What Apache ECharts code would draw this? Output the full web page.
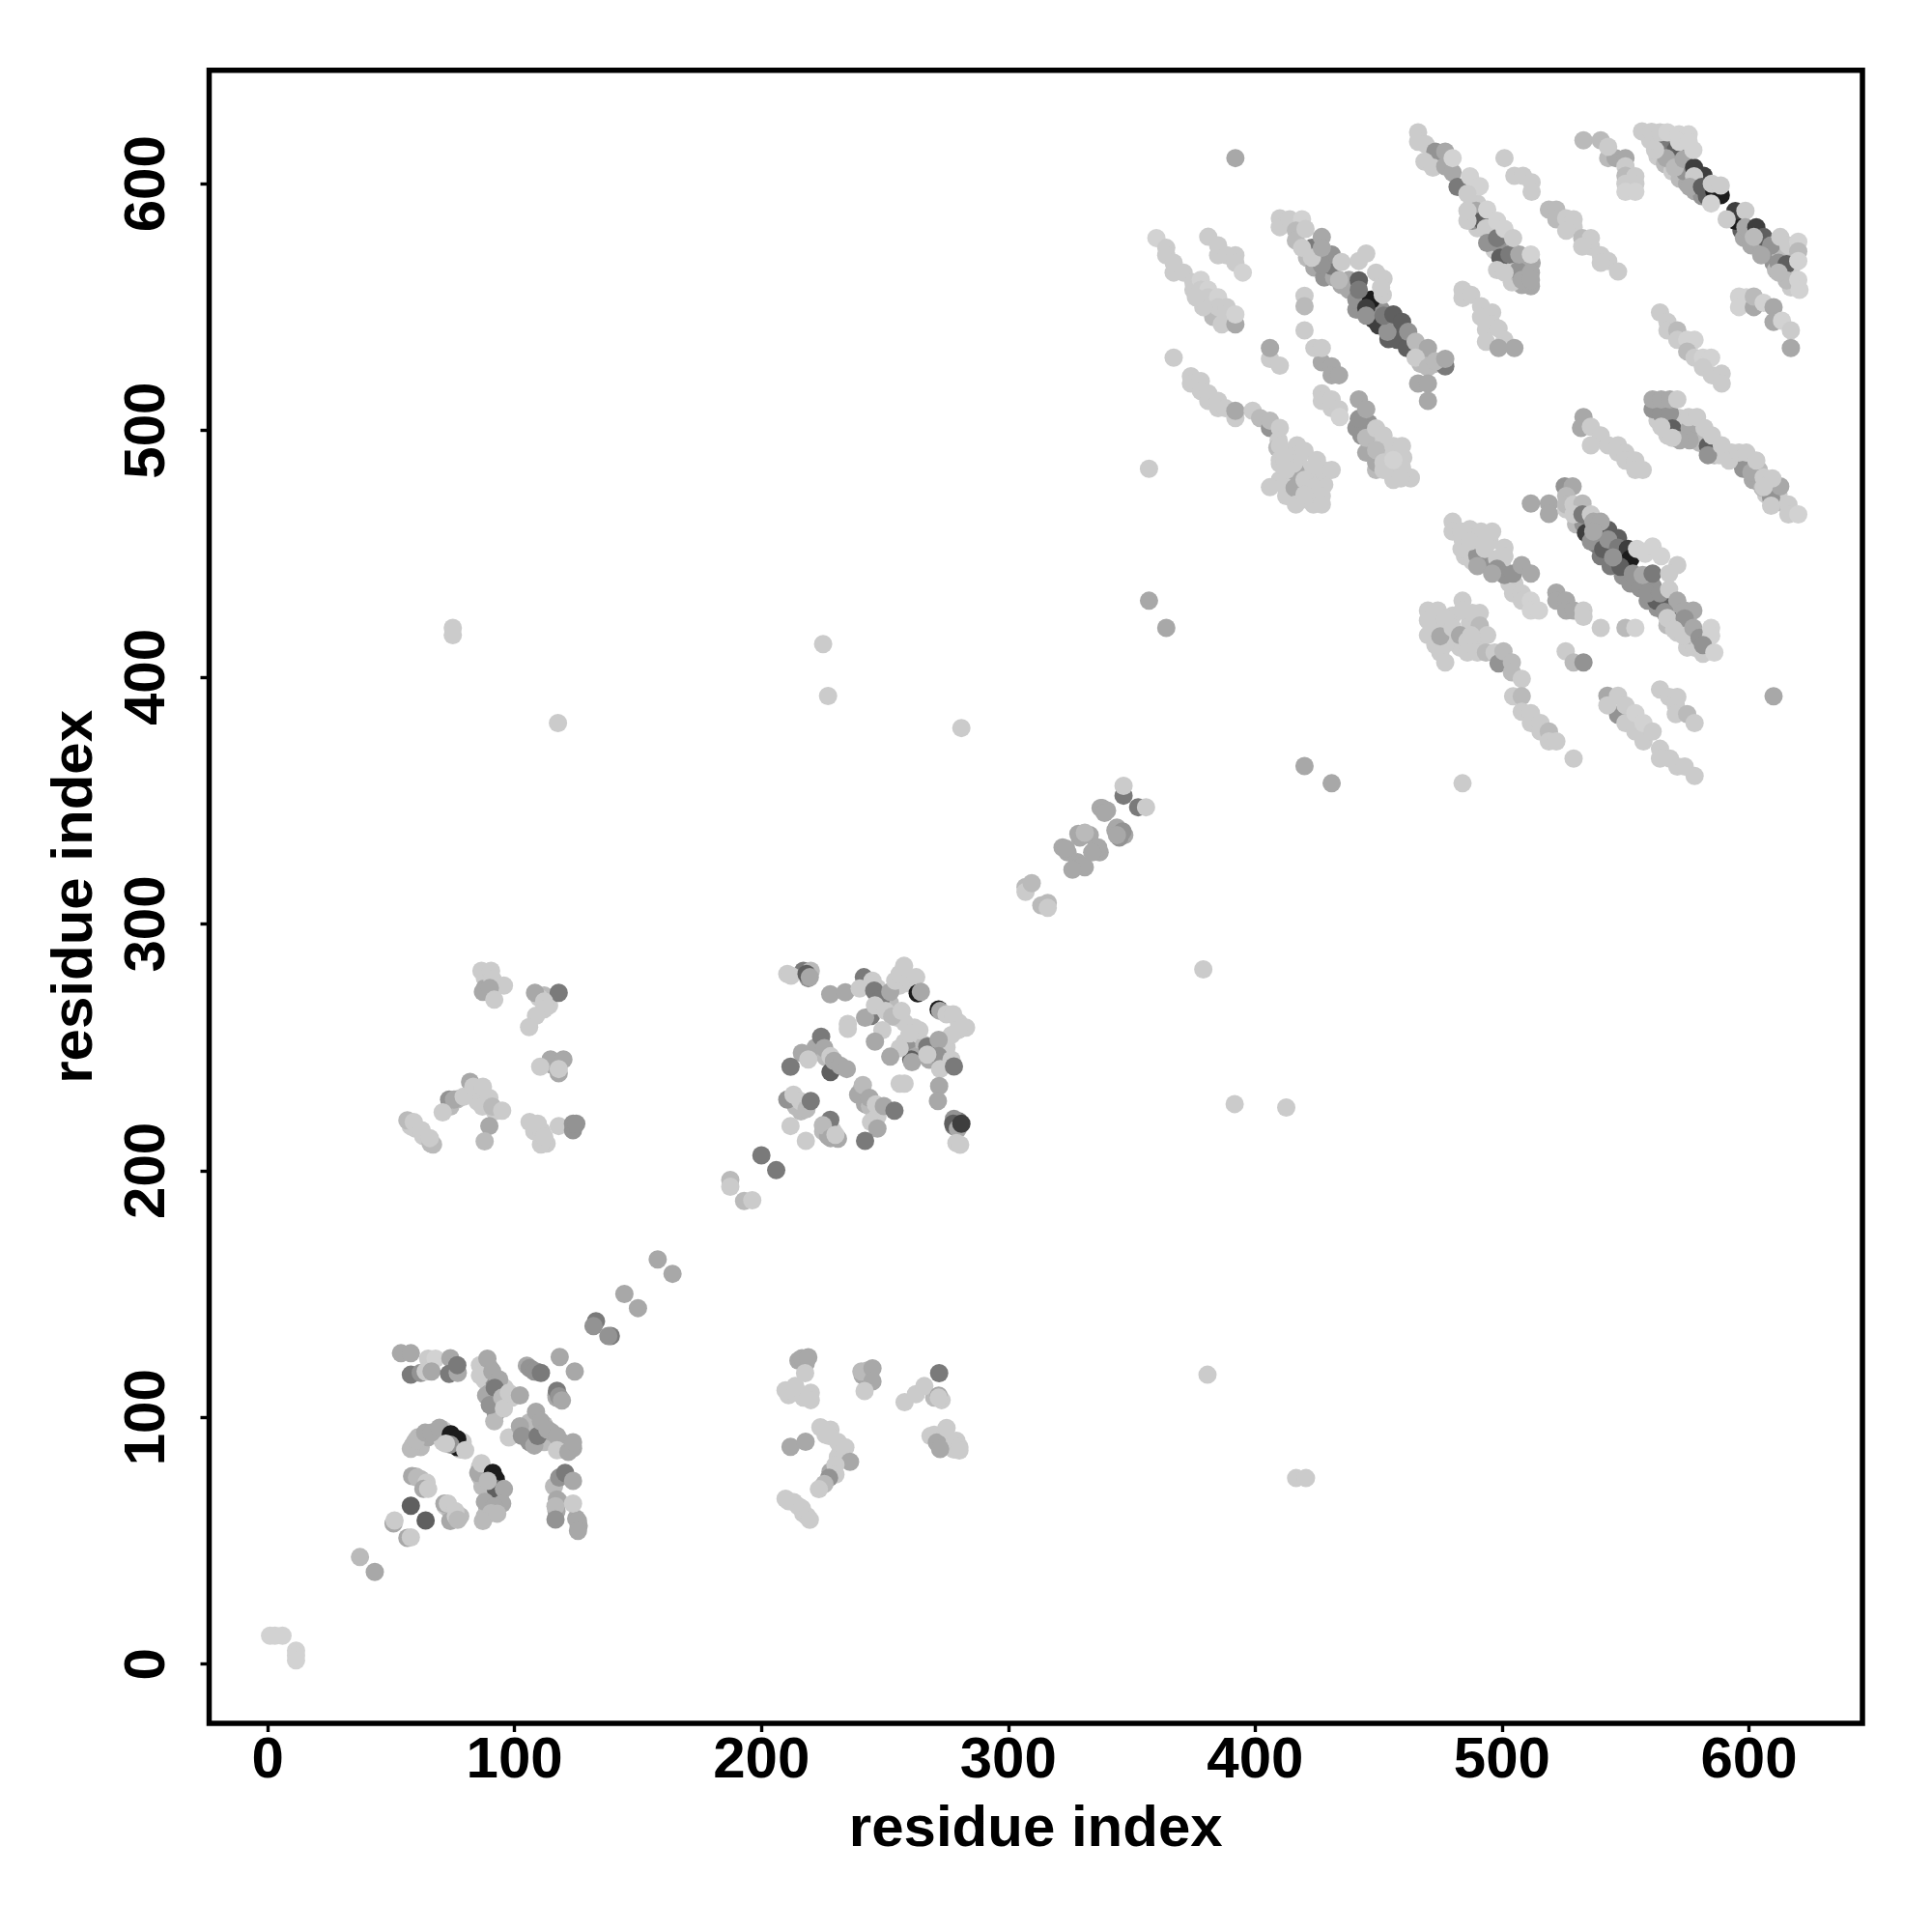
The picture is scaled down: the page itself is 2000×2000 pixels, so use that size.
<!DOCTYPE html>
<html><head><meta charset="utf-8">
<script src="https://cdn.jsdelivr.net/npm/echarts@6/dist/echarts.min.js"></script>
<style>html,body{margin:0;padding:0;background:#fff}#c{width:2000px;height:2000px}</style></head>
<body><div id="c"></div>
<script>
const tickValues=[0,100,200,300,400,500,600];
const axisName='residue index';
// contact strength classes -> grey level
const greyRamp=['#ffffff','#d2d2d2','#cbcbcb','#bababa','#a8a8a8','#939393','#7a7a7a','#5f5f5f','#3e3e3e','#1c1c1c'];
// each point: [residue i, residue j, strength class]
const isolated=[[392,610.4,4],[357,484.5,2],[357,431,4],[364,420,4],[420,364,4],[431,357,4],[484,357,2],[610,392.3,4],
[75,420,2],[75,417,2],[117.6,381.4,2],[225,413.4,2],[227,392.4,2],[281,379.4,2],[379,281.6,2],[391.7,227,2],[412.6,225.6,2],[380.7,117.3,2],[416.6,75.4,2],[420.6,75.4,2],
[37.4,43.4,3],[43.4,37.4,4],[1,11.5,1],[3,11.5,1],[6,11.5,1],[11.5,5.5,1],[11.5,3.5,1],[11.5,1.5,1],
[144.5,150,4],[150,144.3,4],[158,164,4],[164,158.2,4],[133,139,6],[132,137,5],[139,133,6],[138,133,5],
[187.4,196.2,3],[187.4,193.5,2],[193,187.7,3],[196.3,188,2],[200,206.2,6],[206,200.2,6]];
const middleFill=[[329,335,4],[333,336,4],[338,347,4],[340,346,4],[335,330,4],[337,329,4],[328,325,4],[331,323,4],[344,339,4],[347,336,4],[345,335,5],[322,331,4],[324,329,4]];
const middle=[[307,315,3],[307,313,2],[309.5,316.5,3],[313.4,307.5,3],[316,308.5,3],[316,306.5,2],
[323.4,330.5,4],[328.4,336.5,4],[330,323.5,4],[326,322,4],[331,337,3],[336.4,331,4],[334,329,4],[337.4,347,4],[339,345,4],[343.4,338,4],[346.3,337.5,5],[344,336,4],
[346.7,352,6],[352.6,347.3,6],[346.7,356,2],[355.8,347.3,2]];
const stripeA=[[383,546,3],[360,578,1],[364,574,2],[364,571,2],[367,568,2],[367,564,2],[371,564,2],[375,560,2],[375,557,2],[378,561,1],[378,557,2],[381,557,1],[381,554,2],[385,554,1],[385,550,2],[388.5,550,2],[388,547,2],[386.5,543,2],[379,550,2],[376,554,2],[392,543,4],[392,547,1],
[381,578.5,2],[385,575,2],[385,571,2],[388.5,571,2],[392,571,2],[392,568,2],[395,564,1]];
const stripeC=[[367,529.5,2],[374,522,2],[374,519,2],[378,520,2],[378,516,2],[381,515,2],[381,512,2],[385,512,2],[385,509,2],[388,509,2],[392,505,2],[392,508,4],
[399,508,2],[402,505,3],[406,501,5],[406,504,3],[410,501,2],[409.5,496,2],[409,493,3],[410,488,2],[410,494,2],[410,486.5,2],[417,494,2],[417,490,2],[420,491.7,2],[416.5,483,4],[415.6,486.5,2],[425,488,2],[427.5,484,2],[431,484,2],[412,488,2],[412.6,484,2],
[406,477,2],[412.6,476.7,2],[412.6,473.4,2],[416,476.7,4],[416.5,470,2],[420,480,2],[423.6,477,2],[427,473.4,2],[423.6,470,2],[427,470,2],[420,474,2]];
const stripeCFill=[[413,491,2],[418,486,2],[420,484,2],[423,482,2],[415,480,2],[418,478,2],[421,472,2],[417,473,2],[410,480,2],[425,477,2],[428,478,2]];
const mainStripeAFill=[[421,570,3],[424,566,4],[428,562,5],[432,562,4],[435,559,4],[438,557,4],[438,561,4],[441,549,5],[444,551,5],[448,549,6],[448,545,8],[451,549,5],[454,543,6],[454,537,7],[457,541,5],[458,539,7],[461,537,6],[463,534,4],[467,531,4],[470,528,3],[473,527,3],[467,527,3]];
const mainStripeA=[[442,553,6],[441,553,5],[447,553,9],[445,549.7,8],[450,542.6,8],[457.5,536.7,7],[461.5,533.4,7],[431,566.7,6],[423,574,6],[431,571.3,5],[427,567,5],[453.6,540,5],[445,546.5,5],[477,526,6],
[410,586,2],[410,582.4,2],[414,585.6,2],[419,585.6,1],[416.5,581,3],[416.5,577,3],[420.4,581.7,2],[419,574,2],[423,570,2],[427,578.4,4],[427,574,4],[434,561,3],[445,571.7,2],[442,568.7,2],[435,568.3,2],
[442,560.8,7],[442,557,6],[452,546.5,6],[456,547,7],[459.5,544,7],[462,540,5],[465,536,3],[470,533.4,4],[465,529.5,2],[470,525.6,3],[473,528,3],[477,529,4],
[449,564,2],[452,561.5,2],[451.7,555,2],[451,558,2],
[466,519,4],[470,519,4],[470,512,4]];
const midBlocksFill=[[447,495,3],[450,495,2],[453,491,2],[456,484,2],[460,489,2],[449,484,3],[456,480,2],[443,498,5],[446,503,5]];
const midBlocks=[[420,554.6,2],[420,550.4,3],[420,540.6,2],[406,529,2],[406,533.4,4],[410,526.3,2],
[427,527.6,4],[431,526,4],[431,522.4,4],[434,522.4,4],[424,533.4,2],[427,533.4,2],
[427,515,2],[427,512,2],[431,512.6,2],[431,509,2],[434,508.6,2],[434.3,505.4,1],
[441,501,5],[442,504.7,5],[442,512.6,4],[445,508.6,4],[445,491,4],[449,487,4],[445,497,3],[449,500.8,2],[452,498,2],[449,492,3],[456,493.7,2],[459.5,493.7,2],[452,487,2],[459.5,485,2],[463,481,2],[463,480.6,2],[459,480.6,2],[452,484,2],[456,488,1],
[466,620.8,2]];
const upperLeftFill=[[487,590,2],[490,592,2],[492,588,4],[495,583,6],[497,581,5],[490,582,2],[495,578,2],[497,573,2],[500,574,5],[503,575,4],[503,568,3],[506,568,5],[509,568,3],[512,568,4],[505,561,2],[503,565,2],[511.7,558.5,4],[508,559,4],[504,560,2],[507,563,3]];
const upperLeft=[[466,617,2],[469,616,2],[473,613,5],[477,613,4],[468.6,609,2],[472,606.5,2],[477,607,4],[480,604.5,4],[482,598.7,6],[480,610.4,1],[487,603,1],[491,599,1],[486,596,2],
[489.5,589,4],[488,585,5],[492,585,7],[486,585,2],[486,589,2],[494,589.5,1],[493.5,582,2],[494,576,5],[498,576,5],[498,578,6],[499.3,570,7],[503,571.3,6],[506.5,564.7,5],[507,571.3,4],[508,561,4],[511.7,564,4],[511.7,561,4],[498,585,1],[501,581.7,1],[504.5,578,2],[498,565,2],[501,564,2],[511.7,571.3,1],
[501,610.4,2],[505,603.2,2],[508.5,603.2,2],[512,600.6,2],[512,596.7,2],
[519,589.5,3],[522,589.5,3],[522,585.6,3],[526,586,2],[529,585.6,2],[529,582.4,2],[526,581,2],[532.5,578,3],[536,578,2],[536,574.5,2],[532.5,574.5,2],[540,571,2],[543,568.7,2],[540,568,2],[547,564.4,2],
[484,557,2],[484,553.7,2],[487.5,555,2],[491.5,550.4,2],[496,547.8,2],[491.5,546,2],[493.5,541,2],[493.5,536,2],[496,543,2],[498.6,541.3,2],[501,536.7,2],[498.6,533.4,4],[505,533.4,4]];
const topRightFill=[[563,611,2],[566,608,3],[569,605,2],[572,602,3],[575,600,4],[578,597,4],[581,595,5],[583,595,7],[579,601,6],[574,605,5],[568,611,4],[571,608,5],
[597,581,7],[598,578,4],[601,575,4],[604,578,6],[607,572,5],[605,574,4],[610,568,5],[611,565,3],[613,571,3],[616,563,3],[617,558,2],[618,570,3],[617,565,2]];
const topRight=[[533,617.6,3],[540,617.6,3],[543,610.4,3],[546,610.4,4],[550,610.4,4],[543,615,2],[550,607,2],[550,603.2,3],[554,603,2],[550,600,2],[554,600,2],[550,596.7,1],[554,596.7,1],
[566.5,615.6,6],[570.4,613.7,7],[566.5,610.4,4],[570,606.5,3],[573.6,610,4],[577.8,606.5,8],[581.7,603.2,8],[562,613.7,2],[560,617.6,2],[556.7,621.2,2],[560.6,621,2],[564,620.8,2],[567,620.8,1],[571.7,620,1],[575.6,620,1],[571.7,617,1],[575.6,617,1],[577.5,613.7,1],[577.8,603,2],[576,598.7,4],[581,598.7,7],
[588.6,595.4,9],[586,597,9],[585,600,2],[588.6,599.3,2],[584.7,592,1],
[594.5,585,9],[594.5,588.9,8],[591,585.6,2],[598.6,589,2],[598.6,582.4,4],[603,582.4,8],[606,578.4,7],[602,578.4,3],[609,575,5],[605,571,4],[612,568,5],[615.3,567.4,7],[612.7,578.4,2],[615.3,560.8,3],[612,564,3],[616,575,2],[620,576.5,1],[620,572.6,3],[620,568.7,1],[620,561,1],[620.5,557,1],
[596,554.3,1],[596,550,1],[599,554,1],[602,550,4],[602,554.3,3],[606,551.7,1],[610,550,4],[610,544,4],[613.4,544.5,1],[617,540.6,2],[617,533.4,4]];
const rightUpperFill=[[563,504,2],[566,503,5],[567,498,2],[570,504,5],[573,500,4],[572,505,2],[578,498,4],[580,495,3],[586,490,3],[584,493,2],[588,490,2],[593,491,2],[600,484,5],[604,479,4],[607,474,2],[604,484,3],[612,471,3],[612,474,2]];
const rightUpper=[[564,547.8,2],[567,544,2],[567,540.6,2],[571,540.6,3],[571,536.7,2],[575,536.7,1],[578,536.7,1],[575,532,3],[578,529.5,2],[581.4,529.5,1],[584.7,529.5,1],[581.4,525.6,2],[585,522.4,2],[589,523,2],[589,519,2],
[533,505.4,4],[532,501,4],[536,501.5,2],[540,498,2],[536,494,2],[543,494,2],[547,494,2],[547,491,2],[550,491,2],[550,487.8,2],[554,487.8,2],[554,484,2],[557,484,2],
[561,508.6,5],[564.5,506.7,5],[568,507,5],[569,500.8,7],[576,500.8,4],[576,496,4],[572,496,4],[583.4,493.7,7],[583.4,490,5],[597.7,487,6],[597.7,484.5,5],[601.6,480,4],[601,483,4],[605.6,476.7,3],[609,472.8,5],[612.7,477.3,4],
[561,512.6,4],[564.5,512.6,4],[568,512.6,4],[571,512.6,2],[564.5,501.5,2],[569,497,2],[575.6,505.4,2],[579,505.4,2],[582,501,2],[585,498,2],[589,494,2],[592,487.8,2],[596,491,2],[599,491,2],[603,487.8,2],[606,481,2],[609.5,480.6,2],[606,477,2],[609,469.5,2],[616,470,2],[616,466,2],[620,466,1]];
const mainStripeBFill=[[526,468,2],[530,462,3],[533,462,5],[535,459,6],[538,454,6],[540,449,6],[544,445,6],[547,448,6],[549,441,5],[551,445,5],[555,441,5],[552,438,5],[556,436,5],[559,431,5],[561,437,5],[563,428,5],[566,433,4],[568,428,4],[571,425,4],[567,421,3],[571,418,2],[575,412,2],[578,412,2],[576,417,3],[580,413,2]];
const mainStripeB=[[534,458.4,8],[536,455,5],[541,451.9,7],[543,459.7,7],[547,456.4,7],[543,455.8,5],[547,452.5,6],[551,452,8],[552,448,9],[548,444.7,7],[545,448.6,5],[553,442,5],[562.5,431,7],[565.8,430.4,7],[569.7,422.5,7],
[525.4,477.3,5],[528.6,477.3,4],[526,473.4,3],[511.7,470.4,4],[519,470.4,4],[519,466.2,4],[526,470,3],[529,470,2],[532.6,470.4,3],[529,466,2],[532.6,466,6],[536,466,2],[537,463,4],[540,463,4],[537,459,4],
[554.7,452,1],[558,450,1],[561,453,1],[564.5,449,1],[557,441.4,4],[561,442,6],[571,445.4,2],[567.7,442,2],
[559,434,5],[564,434,5],[567.7,435.6,2],[571,431,4],[565.8,426.4,5],[567,424,2],[574,427,4],[577.5,427,4],[574,423.8,5],[569.7,419.3,2],[573.6,416.7,2],[577.5,420,4],[580,416,5],[584.7,420,1],[584.7,416.7,1],[581.4,409.5,2],[581.4,413,5],[586,410,1]];
const lowerRightFill=[[472,420,2],[474,420,2],[480,415,2],[478,417,2],[475,410,2],[483,412,2],[488,413,2],[490,415,2],[491,426,2],[487,422,2],[480,425,2],[484,456,2],[490,455,2],[495,455,2],[493,448,3],[495,445,5],[500,445,2],[503,438,2],[485,449,2],[488,447,2],[498,448,2],[505,438,2]];
const lowerRight=[[501,452.5,2],[501,449,2],[498,444,5],[501,441.4,5],[504.5,442,5],[508,445.4,4],[511.7,442,4],[504.5,434,2],[508,434,2],[508,431,2],[511.7,431,1],[511.7,427,1],[515,427,1],
[522,434.3,4],[522,431,4],[526,431,4],[526,427,4],[529,427,4],[533,427,2],[533,424.5,2],[540,420,2],[550,420,3],[554,420,1],
[525.8,410.5,2],[529,406,3],[533,406,5],
[480,463,2],[480,459,2],[483.6,459,2],[487,460,2],[491.5,459,2],[496,459,2],[483.6,452,2],[490,449.3,5],[490,445,4],[496,442,4],[487,455,2],[493,452,2],
[470,427,2],[474,427,2],[470,423,2],[477,424,2],[470,417,2],[473,413,2],[477,413.4,2],[477,406,2],[475,416.6,4],[480,420,2],[484,431,2],[484,427,2],[488,426,2],[483,417,4],[486,414.7,2],[486,410,2],[490,410,2],[491,421,3],[494,417,2],[493.5,410,3],[497,410,2],[487.5,417,2],
[498.6,405.6,5],[500.6,410.5,3],[504,406,3],[504,402,3],[508,399.3,2],[504.5,392.3,2],[508,392.3,3],[508,386,2],[511.7,385.4,2],[511.7,381.4,2],[515.6,381.4,2],[515.6,378,2],[519,378,3],[519,374,2],[522,374,2],[529,367,2],
[542.7,392.5,4],[547,384.7,5],[547,392.5,2],[542.7,388.6,2],[550,388.6,2],[550,381.4,2],[554,385.4,1],[554,378,2],[557.3,381.4,1],[557.3,374,2],[561,378,2],[564,371,2],[564,367,2],[568,367,2],[571,363.8,2],[574,363.8,2],[578,360,2],
[564,395,2],[567.7,392,2],[571,392,2],[570.4,388.6,2],[570.4,385,2],[575,385,3],[578,381.4,2]];
const blockAFill=[[87,120,2],[87.5,118,2],[88,115,2],[90,120,4],[92,114,5],[90,110,4],[91,106,4],[93,103,5],[96,112,2],[99,108,2],[92,116,5],[94,105,3],[107,119.5,4],[109,118.5,5],[105,121,4],[117,109,5],[117,108,4],[106,96,4],[104,95,4],[106,98,3],[112,97,3],[110,90,4],[106,90,5],[112,90,3],[115,94,4],[119,90,4],[119,87,2],[122,88,4],[59,89,3],[61,92,3],[62,88,3],[65,92,4],[68,94,4],[71,95,2],[72,93,3],[71,90,2],[78,87,2],[79,90,2],[86,80,2],[86,76,3],[90,74,3],[87,72,3],[93,72,4],[94,68,4],[92,66,4],[90,67,3],[89,63,3],[88,60,3],[60,76,3],[62,75,3],[64,72,2],[72,64,2],[74,62,3],[75,60,3],[78,60,3],[116,72,3],[118,66,3],[117,62,4],[125,59,4],[126,56,4]];
const blockA=[[54,126,4],[58,126,4],[58,117.3,6],[62,118,5],[65,123.8,2],[68,123.8,1],[64,118.6,2],[66.4,118.6,4],[74,124,4],[73.5,117.6,6],[77,118,4],[76.8,121.2,6],
[86,121.2,2],[86,117,2],[89,123.8,4],[91,118.6,4],[93.8,115.4,4],[88.5,108.9,4],[92,112,6],[92.4,101.7,5],[91.8,98.4,3],[90,105,5],[95,108,3],[95.7,103.6,2],[97.7,110,2],[102.2,108.9,4],
[106.1,120,5],[108,118.6,5],[110.7,118,6],[118.3,124.5,4],[124.4,118.6,4],[117.2,110.8,6],[118,108.5,5],[119.2,106.9,4],
[108.7,102.3,4],[97.7,91.9,2],[102.2,96.4,4],[103,92.5,5],[108,88.6,4],[109.4,92.5,6],[110.7,98.4,4],[113.3,95.1,4],[117.2,92.5,4],[123.7,87.5,4],[117.2,86.7,2],[121.8,86,4],[123.7,89.9,4],
[58,87.3,3],[60,90.6,3],[63.8,93.8,4],[66.4,93.8,4],[69.6,95.8,4],[74.2,93.2,9],[76.8,91.2,9],[76.8,88,9],[74,89,5],[72.2,89.3,2],[80,86.7,2],
[85.3,77.5,4],[86.6,81.4,2],[91.2,77.5,9],[92.4,75,9],[92.4,71,7],[89.2,74.3,3],[95.7,71,4],
[88,65.8,4],[95,65.1,4],[91.8,63.8,4],[90.5,61.2,3],[87.2,58,3],[93,61,3],
[58.5,76.2,4],[60.5,75.6,3],[64.4,73.6,2],[63.1,71,4],[65,71,2],
[58,64.2,7],[64,58.2,7],[51,57,4],[51.4,58.2,2],[56.6,51.2,4],[58,51.4,2],
[71.6,65.1,4],[73,65.1,2],[76,62,2],[74,58,4],[76.2,59.9,2],[77,58.5,3],
[118.1,75.6,5],[120.5,77.5,6],[123.7,74.3,4],[117.2,66.7,4],[116.6,64,3],[123.7,65.1,2],[116.6,58.6,5],[125.7,58,4],[125.7,54,4]];
const blockBFill=[[243,275,4],[247,274,2],[247,270,3],[250,268,2],[252,268,3],[255,262,2],[258,260,2],[262,258,2],[258,252,2],[262,252,2],[260,249,5],[264,247,4],[266,251,3],[268,245,4],[270,248,4],[274,244,3],[275,250,2],[280,260,2],[262,246,4],[256,275,2],[259,276,2],[222,250,4],[226,246,3],[230,243,4],[212,229,4],[214,226,3],[216,224,3],[225,216,3],[227,214,4],[229,216,2],[240,232,3],[242,227,4],[244,226,3],[247,222,2],[219,278,5],[217,281,6],[220,281,3],[278,218,6],[280,220,6],[278,221,5]];
const blockB=[[210.5,279.7,2],[212,279,2],[218.3,279.7,7],[219.6,278.4,4],[227.9,271.5,4],[234,272.3,4],[235,259.5,2],[235,257.5,2],
[241.5,278.4,6],[245,277,2],[239.8,273.8,2],[245.7,273,6],[248.3,269.3,6],[244.4,262.7,6],[242,262,4],[246,267,2],[252.2,272.5,4],[254.2,277,2],[256,279.7,2],[257.8,283,2],[262.7,278.4,2],[263.3,271.9,9],[264.6,272.5,4],
[250.3,264.7,2],[253,262.5,3],[256.8,264.7,2],[249,256.9,2],[246,252.3,4],
[271.8,265.3,9],[272.4,264.7,4],[275,263.4,2],[277.7,263.4,2],[282.9,258,2],[279.6,256.9,2],[277,255,2],
[260.7,245.1,7],[261,244,4],[264,256.9,2],[260,255.6,2],[256,249.7,2],[252.2,246.2,4],[267.2,250.3,6],[271.8,253,4],[271.8,246.4,5],[267.2,247,2],[277,245,2],[272.4,241.2,2],[278,242.2,6],
[228,240,7],[224.2,254.3,6],[216.4,247.7,4],[211.8,242.1,6],[219,245.1,2],[225.5,249.7,4],[228,246.4,2],[229.4,244.5,4],[232,242.5,4],[234.6,241.2,4],
[210.5,228.8,5],[213,230.8,2],[215.7,228.2,2],[218.3,225,3],[220,228.2,6],
[211.8,218.1,2],[218,212.1,2],[227.9,220.6,6],[224.9,218.4,3],[228,213.2,4],[231,213,4],[230,214.5,2],
[239.2,230.8,4],[241.1,234.7,3],[243.8,229.5,4],[246.4,226.9,2],[249.6,226.2,4],[253.9,224.3,6],[244.4,219.7,2],[247,217.1,4],[242,212.1,6],
[256,235.3,2],[258,235.3,2],[272,234.3,4],[271.5,228.2,4],
[277.7,219,7],[279.6,217,4],[281,219,8],[279,211.2,2],[280.5,210.5,2]];
const blockCFill=[[88,278,2],[92,276,2],[88,274,4],[112,271,3],[110,270,2],[114,267,2],[115,243,4],[117,243,3],[74,226,3],[77,229,3],[84,232,2],[85,228,2],[87,226,2],[92,224,2],[58,218,2],[60,217,2],[63,214,2],[66,211,3],[108,216,2],[111,216,2],[113,211,2]];
const blockC=[[86.6,281,2],[90.5,281,2],[91,277.8,2],[95.7,275,2],[87.2,272.5,4],[90,274,4],[91.8,269.3,2],
[108.3,272.1,4],[117.9,272.1,6],[112,268.6,2],[112,265.4,2],[108.7,262.8,2],[105.9,258.2,2],
[114.6,245.1,4],[117.9,239.5,4],[119.8,245.1,4],[110.4,242.1,2],[117.9,241.2,2],
[73.5,228.8,5],[75.5,228.8,4],[70.9,223.6,2],[82,236,4],[79.4,230,2],[83.3,234,2],[87.2,234,2],[89.8,229.5,2],[91,226,3],[95,224.3,2],[89.8,218.1,4],[87.9,211.9,3],
[56.6,220.4,3],[59.2,219.7,2],[62.4,216.4,2],[67,210.6,3],[65.7,213.2,2],
[106.1,219.7,2],[109.4,219,2],[110.7,210.6,2],[112,213.8,2],[117.9,218.1,2],[123.7,216.4,5],[123.7,219,5],[125,219,5]];
const blockDFill=[[215,123,4],[218,122,4],[211,109,2],[215,110,2],[217,108,2],[220,110,2],[241,117,4],[243,119,3],[226,93,2],[228,95,2],[232,86,2],[233,83,2],[231,84,2],[229,78,3],[228,78,4],[211,66,2],[215,64,2],[217,61,2],[270,93,2],[273,91,3],[276,90,2],[278,87,2],[270,108,3],[273,107,2]];
const blockD=[[216.4,124,4],[219,124.4,4],[217.7,117.9,2],[209.8,111,2],[213.7,112.7,2],[219,108,2],[220,107,2],
[240.5,118.6,3],[245,119.9,4],[245,114.6,4],[241.8,110.7,2],
[272,117.9,6],[258,106.2,2],[262.6,109.4,2],[266,112.7,2],[271.8,108.8,4],[271.8,108,2],
[211.8,88.1,4],[217.9,90.1,4],[223.9,96,2],[227.4,92.5,2],[231,90,2],[234,87.9,2],[235.9,82,4],[230,80.7,2],[230,76.8,2],[227.4,75.5,5],[225.5,73,3],[223.3,70.9,2],
[209.8,67,2],[213.1,65.7,2],[216.4,63.1,2],[218.5,60,2],[219.6,58.5,2],
[268.5,92.5,2],[271.1,89.8,4],[272.4,87.2,4],[275,95.7,2],[279,90.5,2],[280.2,88,2],[280.2,86.6,2]];
const clusters=[isolated,middleFill,middle,stripeA,stripeCFill,stripeC,mainStripeAFill,mainStripeA,midBlocksFill,midBlocks,upperLeftFill,upperLeft,topRightFill,topRight,rightUpperFill,rightUpper,mainStripeBFill,mainStripeB,lowerRightFill,lowerRight,blockAFill,blockA,blockBFill,blockB,blockCFill,blockC,blockDFill,blockD];
const points=[];
clusters.forEach(c=>c.forEach(p=>points.push(p)));

const labelFont={fontFamily:'Liberation Sans',fontWeight:'bold',fontSize:60,color:'#000'};
const chart=echarts.init(document.getElementById('c'),null,{renderer:'canvas'});
function axis(extra){return Object.assign({
  type:'value',name:axisName,nameLocation:'middle',nameTextStyle:labelFont,
  splitLine:{show:false},axisLine:{show:false,onZero:false},
  axisTick:{show:true,length:9,lineStyle:{color:'#000',width:3.4},customValues:tickValues},
},extra);}
chart.setOption({
  animation:false,backgroundColor:'#fff',
  grid:{left:216.5,top:72.7,width:1711.5,height:1711.3,show:true,borderColor:'#000',borderWidth:5.5,backgroundColor:'#fff'},
  xAxis:axis({min:-23.7,max:646,nameGap:80,axisLabel:Object.assign({},labelFont,{margin:9.5,customValues:tickValues})}),
  yAxis:axis({min:-24,max:646,nameGap:108,axisLabel:Object.assign({},labelFont,{margin:33,rotate:90,customValues:tickValues})}),
  series:[{type:'scatter',symbol:'circle',symbolSize:19,large:false,
    data:points.map(p=>({value:[p[0],p[1]],itemStyle:{color:greyRamp[p[2]],opacity:1}}))}]
});
</script></body></html>
